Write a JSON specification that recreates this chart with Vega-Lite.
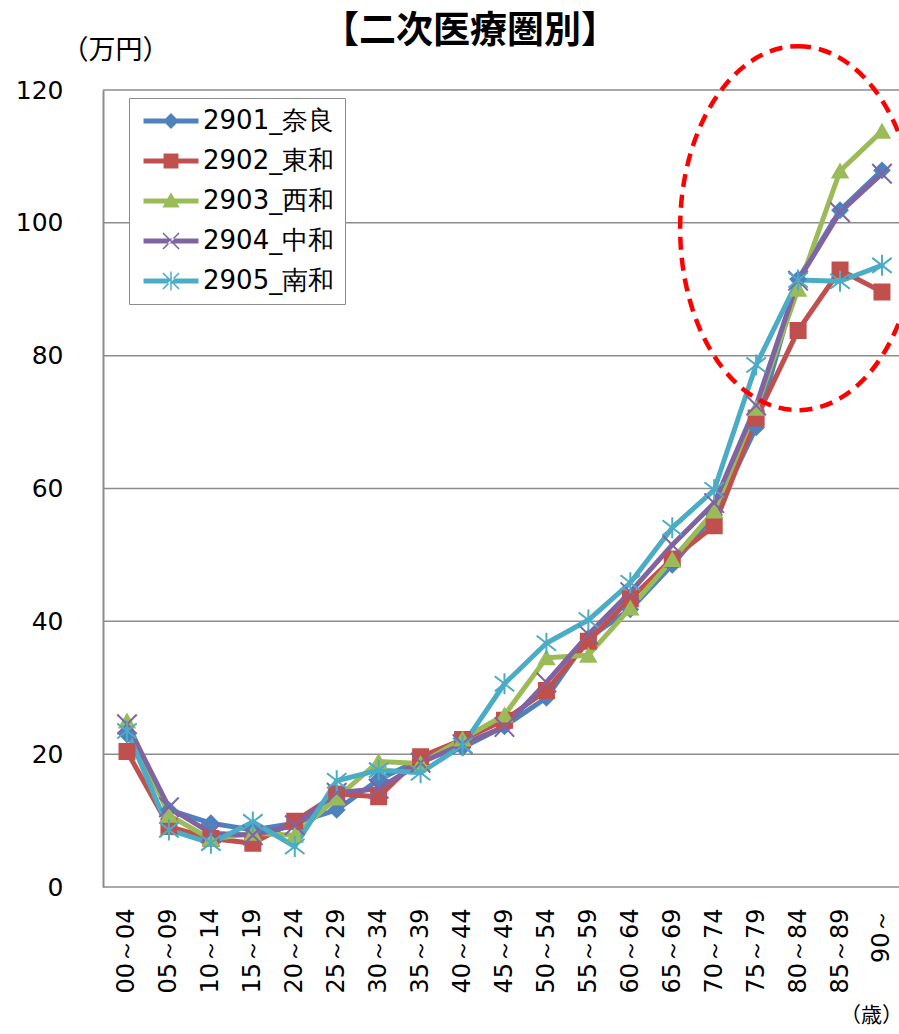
{
  "$schema": "https://vega.github.io/schema/vega-lite/v6.json",
  "autosize": "none",
  "padding": {"left": 103, "top": 90, "right": 0, "bottom": 147},
  "width": 796,
  "height": 797,
  "background": "white",
  "config": {"view": {"stroke": null}, "font": "DejaVu Sans"},
  "title": {
    "text": "【二次医療圏別】",
    "font": "Noto Sans CJK JP",
    "fontSize": 37,
    "fontWeight": "bold",
    "color": "black",
    "anchor": "middle",
    "frame": "group",
    "dx": -31,
    "dy": 15,
    "offset": 0
  },
  "datasets": {
    "main": [
      {"age": "00～04", "series": "2901_奈良", "value": 23.0},
      {"age": "05～09", "series": "2901_奈良", "value": 11.6},
      {"age": "10～14", "series": "2901_奈良", "value": 9.6},
      {"age": "15～19", "series": "2901_奈良", "value": 8.6},
      {"age": "20～24", "series": "2901_奈良", "value": 9.6},
      {"age": "25～29", "series": "2901_奈良", "value": 11.6},
      {"age": "30～34", "series": "2901_奈良", "value": 16.2},
      {"age": "35～39", "series": "2901_奈良", "value": 19.2},
      {"age": "40～44", "series": "2901_奈良", "value": 21.0},
      {"age": "45～49", "series": "2901_奈良", "value": 24.2},
      {"age": "50～54", "series": "2901_奈良", "value": 28.5},
      {"age": "55～59", "series": "2901_奈良", "value": 37.5},
      {"age": "60～64", "series": "2901_奈良", "value": 41.8},
      {"age": "65～69", "series": "2901_奈良", "value": 48.5},
      {"age": "70～74", "series": "2901_奈良", "value": 56.0},
      {"age": "75～79", "series": "2901_奈良", "value": 69.2},
      {"age": "80～84", "series": "2901_奈良", "value": 91.5},
      {"age": "85～89", "series": "2901_奈良", "value": 101.9},
      {"age": "90～", "series": "2901_奈良", "value": 107.9},
      {"age": "00～04", "series": "2902_東和", "value": 20.4},
      {"age": "05～09", "series": "2902_東和", "value": 9.1},
      {"age": "10～14", "series": "2902_東和", "value": 7.3},
      {"age": "15～19", "series": "2902_東和", "value": 6.6},
      {"age": "20～24", "series": "2902_東和", "value": 9.9},
      {"age": "25～29", "series": "2902_東和", "value": 14.0},
      {"age": "30～34", "series": "2902_東和", "value": 13.6},
      {"age": "35～39", "series": "2902_東和", "value": 19.6},
      {"age": "40～44", "series": "2902_東和", "value": 22.2},
      {"age": "45～49", "series": "2902_東和", "value": 25.1},
      {"age": "50～54", "series": "2902_東和", "value": 29.6},
      {"age": "55～59", "series": "2902_東和", "value": 37.0},
      {"age": "60～64", "series": "2902_東和", "value": 43.4},
      {"age": "65～69", "series": "2902_東和", "value": 49.4},
      {"age": "70～74", "series": "2902_東和", "value": 54.4},
      {"age": "75～79", "series": "2902_東和", "value": 70.6},
      {"age": "80～84", "series": "2902_東和", "value": 83.8},
      {"age": "85～89", "series": "2902_東和", "value": 92.9},
      {"age": "90～", "series": "2902_東和", "value": 89.6},
      {"age": "00～04", "series": "2903_西和", "value": 25.0},
      {"age": "05～09", "series": "2903_西和", "value": 10.8},
      {"age": "10～14", "series": "2903_西和", "value": 7.2},
      {"age": "15～19", "series": "2903_西和", "value": 8.1},
      {"age": "20～24", "series": "2903_西和", "value": 7.8},
      {"age": "25～29", "series": "2903_西和", "value": 13.4},
      {"age": "30～34", "series": "2903_西和", "value": 18.9},
      {"age": "35～39", "series": "2903_西和", "value": 18.6},
      {"age": "40～44", "series": "2903_西和", "value": 22.3},
      {"age": "45～49", "series": "2903_西和", "value": 25.9},
      {"age": "50～54", "series": "2903_西和", "value": 34.5},
      {"age": "55～59", "series": "2903_西和", "value": 34.9},
      {"age": "60～64", "series": "2903_西和", "value": 42.0},
      {"age": "65～69", "series": "2903_西和", "value": 49.3},
      {"age": "70～74", "series": "2903_西和", "value": 56.6},
      {"age": "75～79", "series": "2903_西和", "value": 72.1},
      {"age": "80～84", "series": "2903_西和", "value": 90.0},
      {"age": "85～89", "series": "2903_西和", "value": 107.8},
      {"age": "90～", "series": "2903_西和", "value": 113.8},
      {"age": "00～04", "series": "2904_中和", "value": 24.5},
      {"age": "05～09", "series": "2904_中和", "value": 12.0},
      {"age": "10～14", "series": "2904_中和", "value": 8.1},
      {"age": "15～19", "series": "2904_中和", "value": 7.8},
      {"age": "20～24", "series": "2904_中和", "value": 9.3},
      {"age": "25～29", "series": "2904_中和", "value": 14.2},
      {"age": "30～34", "series": "2904_中和", "value": 14.8},
      {"age": "35～39", "series": "2904_中和", "value": 18.7},
      {"age": "40～44", "series": "2904_中和", "value": 21.5},
      {"age": "45～49", "series": "2904_中和", "value": 24.1},
      {"age": "50～54", "series": "2904_中和", "value": 30.8},
      {"age": "55～59", "series": "2904_中和", "value": 38.0},
      {"age": "60～64", "series": "2904_中和", "value": 44.4},
      {"age": "65～69", "series": "2904_中和", "value": 51.5},
      {"age": "70～74", "series": "2904_中和", "value": 57.8},
      {"age": "75～79", "series": "2904_中和", "value": 72.5},
      {"age": "80～84", "series": "2904_中和", "value": 91.3},
      {"age": "85～89", "series": "2904_中和", "value": 101.6},
      {"age": "90～", "series": "2904_中和", "value": 107.4},
      {"age": "00～04", "series": "2905_南和", "value": 23.5},
      {"age": "05～09", "series": "2905_南和", "value": 8.6},
      {"age": "10～14", "series": "2905_南和", "value": 6.6},
      {"age": "15～19", "series": "2905_南和", "value": 9.8},
      {"age": "20～24", "series": "2905_南和", "value": 6.1},
      {"age": "25～29", "series": "2905_南和", "value": 16.0},
      {"age": "30～34", "series": "2905_南和", "value": 17.6},
      {"age": "35～39", "series": "2905_南和", "value": 17.2},
      {"age": "40～44", "series": "2905_南和", "value": 21.3},
      {"age": "45～49", "series": "2905_南和", "value": 30.6},
      {"age": "50～54", "series": "2905_南和", "value": 36.7},
      {"age": "55～59", "series": "2905_南和", "value": 40.2},
      {"age": "60～64", "series": "2905_南和", "value": 45.8},
      {"age": "65～69", "series": "2905_南和", "value": 54.1},
      {"age": "70～74", "series": "2905_南和", "value": 59.8},
      {"age": "75～79", "series": "2905_南和", "value": 78.6},
      {"age": "80～84", "series": "2905_南和", "value": 91.4},
      {"age": "85～89", "series": "2905_南和", "value": 91.2},
      {"age": "90～", "series": "2905_南和", "value": 93.6}
    ],
    "oval": [{"age": "80～84", "value": 99.2}],
    "grid": [{"value": 0}, {"value": 20}, {"value": 40}, {"value": 60}, {"value": 80}, {"value": 100}, {"value": 120}]
  },
  "resolve": {"scale": {"shape": "independent", "color": "independent", "stroke": "independent"}},
  "layer": [
    {
      "data": {"name": "grid"},
      "mark": {"type": "rule", "color": "#8c8c8c", "strokeWidth": 1.5},
      "encoding": {
        "y": {"field": "value", "type": "quantitative"}
      }
    },
    {
      "data": {"name": "main"},
      "mark": {"type": "line", "strokeWidth": 5, "strokeJoin": "round", "strokeCap": "round"},
      "encoding": {
        "x": {
          "field": "age", "type": "nominal",
          "scale": {"type": "point", "domain": ["00～04","05～09","10～14","15～19","20～24","25～29","30～34","35～39","40～44","45～49","50～54","55～59","60～64","65～69","70～74","75～79","80～84","85～89","90～"], "padding": 0.489, "align": 0.585},
          "axis": {
            "domain": false, "ticks": false, "grid": false,
            "labelAngle": 270, "labelAlign": "right", "labelBaseline": "middle",
            "labelPadding": 21, "labelFontSize": 24, "labelFont": "DejaVu Sans", "labelColor": "black",
            "title": "（歳）", "titleFont": "Noto Sans CJK JP", "titleFontSize": 21, "titleFontWeight": "normal",
            "titleColor": "black", "titleAngle": 0, "titleX": 768, "titleY": 128, "titleAlign": "center", "titleBaseline": "middle"
          }
        },
        "y": {
          "field": "value", "type": "quantitative",
          "scale": {"domain": [0, 120], "nice": false},
          "axis": {
            "values": [0, 20, 40, 60, 80, 100, 120],
            "domain": true, "domainColor": "#8c8c8c", "domainWidth": 2,
            "ticks": false, "grid": false,
            "labelPadding": 40, "labelFontSize": 25, "labelFont": "DejaVu Sans", "labelColor": "black",
            "title": "（万円）", "titleFont": "Noto Sans CJK JP", "titleFontSize": 27, "titleFontWeight": "normal",
            "titleColor": "black", "titleAngle": 0, "titleX": 12, "titleY": -40, "titleAlign": "center", "titleBaseline": "middle"
          }
        },
        "color": {
          "field": "series", "type": "nominal", "legend": null,
          "scale": {"domain": ["2901_奈良","2902_東和","2903_西和","2904_中和","2905_南和"], "range": ["#4F81BD","#C0504D","#9BBB59","#8064A2","#4BACC6"]}
        }
      }
    },
    {
      "data": {"name": "main"},
      "mark": {"type": "point", "filled": true, "strokeWidth": 2, "size": 225, "opacity": 1},
      "encoding": {
        "x": {"field": "age", "type": "nominal"},
        "y": {"field": "value", "type": "quantitative"},
        "shape": {
          "field": "series", "type": "nominal", "legend": null,
          "scale": {"domain": ["2901_奈良","2902_東和","2903_西和","2904_中和","2905_南和"], "range": ["diamond", "square", "triangle-up", "M -1.3 -1.3 L 1.3 1.3 M -1.3 1.3 L 1.3 -1.3", "M -1.3 -1 L 1.3 1 M -1.3 1 L 1.3 -1 M 0 -1.4 L 0 1.4"]}
        },
        "color": {
          "field": "series", "type": "nominal", "legend": null,
          "scale": {"domain": ["2901_奈良","2902_東和","2903_西和","2904_中和","2905_南和"], "range": ["#4F81BD","#C0504D","#9BBB59","#8064A2","#4BACC6"]}
        },
        "stroke": {
          "field": "series", "type": "nominal", "legend": null,
          "scale": {"domain": ["2901_奈良","2902_東和","2903_西和","2904_中和","2905_南和"], "range": ["#4F81BD","#C0504D","#9BBB59","#8064A2","#4BACC6"]}
        }
      }
    },
    {
      "data": {"name": "main"},
      "mark": {"type": "point", "filled": true, "opacity": 0},
      "encoding": {
        "x": {"field": "age", "type": "nominal"},
        "y": {"field": "value", "type": "quantitative"},
        "shape": {
          "field": "series", "type": "nominal",
          "scale": {"domain": ["2901_奈良","2902_東和","2903_西和","2904_中和","2905_南和"], "range": [
            "M -2.29 -0.21 L 2.29 -0.21 L 2.29 0.21 L -2.29 0.21 Z M 0 -0.66 L 0.66 0 L 0 0.66 L -0.66 0 Z",
            "M -2.29 -0.21 L 2.29 -0.21 L 2.29 0.21 L -2.29 0.21 Z M -0.62 -0.62 L 0.62 -0.62 L 0.62 0.62 L -0.62 0.62 Z",
            "M -2.29 -0.21 L 2.29 -0.21 L 2.29 0.21 L -2.29 0.21 Z M 0 -0.72 L 0.72 0.55 L -0.72 0.55 Z",
            "M -2.29 -0.21 L 2.29 -0.21 L 2.29 0.21 L -2.29 0.21 Z M -0.625 -0.715 L 0.715 0.625 L 0.625 0.715 L -0.715 -0.625 Z M -0.625 0.715 L 0.715 -0.625 L 0.625 -0.715 L -0.715 0.625 Z",
            "M -2.29 -0.21 L 2.29 -0.21 L 2.29 0.21 L -2.29 0.21 Z M -0.625 -0.715 L 0.715 0.625 L 0.625 0.715 L -0.715 -0.625 Z M -0.625 0.715 L 0.715 -0.625 L 0.625 -0.715 L -0.715 0.625 Z M -0.06 -0.8 L 0.06 -0.8 L 0.06 0.8 L -0.06 0.8 Z"
          ]},
          "legend": {
            "title": null, "orient": "none", "legendX": 26, "legendY": 8,
            "symbolSize": 576, "symbolOpacity": 1, "symbolStrokeWidth": 0, "symbolOffset": 19,
            "labelFontSize": 26, "labelFont": "DejaVu Sans", "labelColor": "black", "labelOffset": 19,
            "rowPadding": 14, "padding": 10, "strokeColor": "#8c8c8c", "fillColor": "white"
          }
        },
        "color": {
          "field": "series", "type": "nominal",
          "scale": {"domain": ["2901_奈良","2902_東和","2903_西和","2904_中和","2905_南和"], "range": ["#4F81BD","#C0504D","#9BBB59","#8064A2","#4BACC6"]},
          "legend": {
            "title": null, "orient": "none", "legendX": 26, "legendY": 8,
            "symbolSize": 576, "symbolOpacity": 1, "symbolStrokeWidth": 0, "symbolOffset": 19,
            "labelFontSize": 26, "labelFont": "DejaVu Sans", "labelColor": "black", "labelOffset": 19,
            "rowPadding": 14, "padding": 10, "strokeColor": "#8c8c8c", "fillColor": "white"
          }
        }
      }
    },
    {
      "data": {"name": "oval"},
      "mark": {"type": "point", "filled": false, "shape": "M 0 -1 A 0.648 1 0 1 1 0 1 A 0.648 1 0 1 1 0 -1 Z", "size": 132496, "stroke": "#FF0000", "strokeWidth": 4.5, "strokeDash": [13, 8], "opacity": 1},
      "encoding": {
        "x": {"field": "age", "type": "nominal"},
        "y": {"field": "value", "type": "quantitative"}
      }
    }
  ]
}
